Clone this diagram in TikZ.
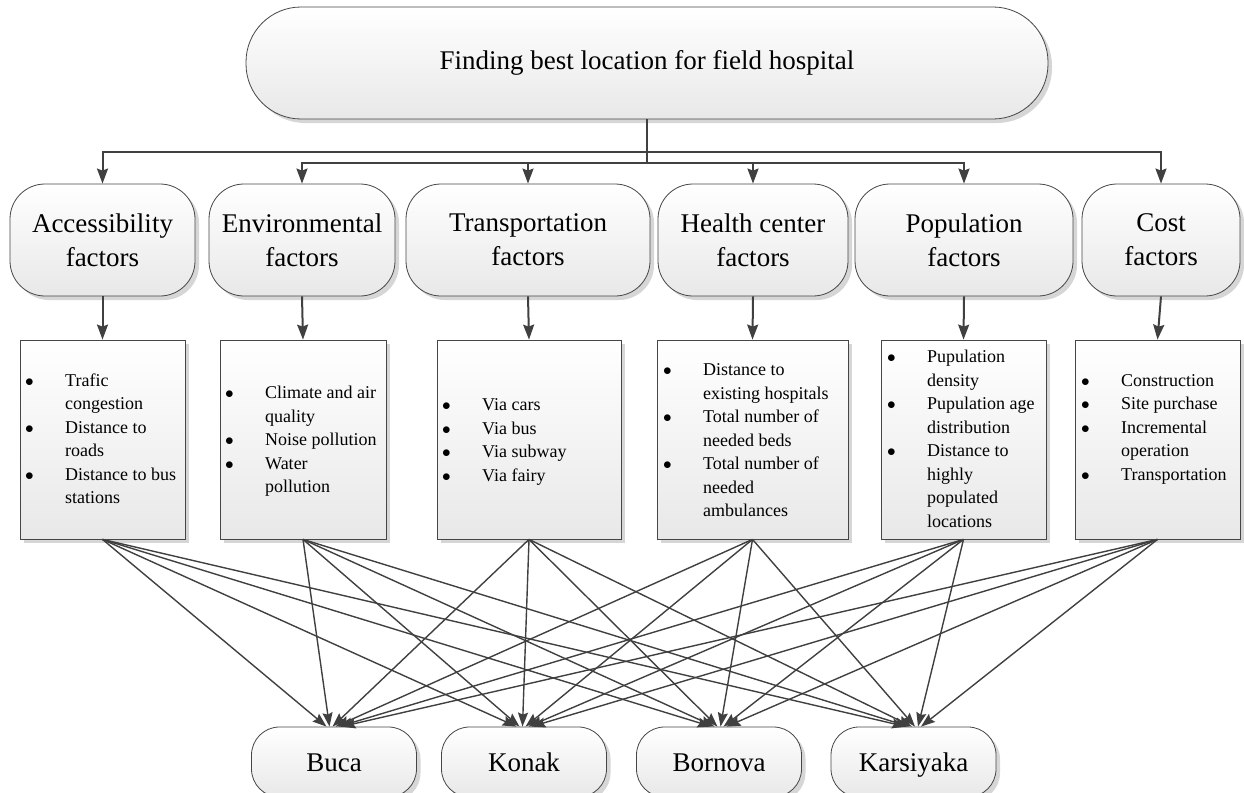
\documentclass[tikz,border=0pt]{standalone}
\usepackage{fontspec}
\setmainfont{Liberation Serif}
\usepackage{array}
\usetikzlibrary{arrows.meta,shadows}
\definecolor{lc}{RGB}{64,64,64}
\definecolor{bc}{RGB}{70,70,70}
\newcommand{\bul}{{\fontsize{17}{17}\selectfont$\bullet$}}
\newcommand{\mylist}[1]{\fontsize{18}{23.5}\selectfont\begin{tabular}{@{}p{40pt}@{}l@{}}#1\end{tabular}}
\begin{document}
\begin{tikzpicture}[x=1pt,y=-1pt,
  shade/.style={top color=white, bottom color=black!9},
  shad/.style={drop shadow={shadow xshift=4pt,shadow yshift=-4pt,fill=black!16,opacity=1}},
  goal/.style={draw=bc, line width=0.8pt, shade, shad, rounded corners=55pt, minimum width=802pt, minimum height=112pt, inner sep=0pt, font=\fontsize{27}{34}\selectfont},
  fnode/.style={draw=bc, line width=0.8pt, shade, shad, rounded corners=35pt, minimum height=112pt, inner sep=0pt, align=center, font=\fontsize{27}{34}\selectfont},
  lbox/.style={draw=bc, line width=0.8pt, shade, shad, minimum height=199pt, inner sep=0pt},
  place/.style={draw=bc, line width=0.8pt, shade, shad, rounded corners=28pt, minimum width=165pt, minimum height=70pt, inner sep=0pt, text height=22pt, text depth=4pt, font=\fontsize{27}{34}\selectfont},
  txt/.style={anchor=west, inner sep=0pt},
  arr/.style={draw=lc, line width=2pt, -{Stealth[length=15pt,width=11pt,inset=2pt]}},
  fan/.style={draw=lc, line width=1.4pt, -{Stealth[length=14pt,width=10pt,inset=2pt]}}
]
\useasboundingbox (0,0) rectangle (1244,792);

% top node
\node[goal] (top) at (647,63) {Finding best location for field hospital};

% factor nodes
\node[fnode, minimum width=185pt] (f1) at (102.5,240) {Accessibility\\factors};
\node[fnode, minimum width=186pt] (f2) at (302,240) {Environmental\\factors};
\node[fnode, minimum width=244pt] (f3) at (528,240) {Transportation\\factors};
\node[fnode, minimum width=190pt] (f4) at (753,240) {Health center\\factors};
\node[fnode, minimum width=218pt] (f5) at (964,240) {Population\\factors};
\node[fnode, minimum width=158pt] (f6) at (1161,240) {Cost\\factors};

% list boxes
\node[lbox, minimum width=165pt] (b1) at (102.5,439.5) {};
\node[lbox, minimum width=166pt] (b2) at (303,439.5) {};
\node[lbox, minimum width=184pt] (b3) at (529,439.5) {};
\node[lbox, minimum width=191pt] (b4) at (752.5,439.5) {};
\node[lbox, minimum width=165pt] (b5) at (963.5,439.5) {};
\node[lbox, minimum width=165pt] (b6) at (1157.5,439.5) {};

\node[txt] (t1) at (25,440.5) {\mylist{\bul & Trafic\\ & congestion\\ \bul & Distance to\\ & roads\\ \bul & Distance to bus\\ & stations}};
\node[txt] (t2) at (225,441) {\mylist{\bul & Climate and air\\ & quality\\ \bul & Noise pollution\\ \bul & Water\\ & pollution}};
\node[txt] (t3) at (442,441.5) {\mylist{\bul & Via cars\\ \bul & Via bus\\ \bul & Via subway\\ \bul & Via fairy}};
\node[txt] (t4) at (663,441.5) {\mylist{\bul & Distance to\\ & existing hospitals\\ \bul & Total number of\\ & needed beds\\ \bul & Total number of\\ & needed\\ & ambulances}};
\node[txt] (t5) at (887,440.5) {\mylist{\bul & Pupulation\\ & density\\ \bul & Pupulation age\\ & distribution\\ \bul & Distance to\\ & highly\\ & populated\\ & locations}};
\node[txt] (t6) at (1081,428.5) {\mylist{\bul & Construction\\ \bul & Site purchase\\ \bul & Incremental\\ & operation\\ \bul & Transportation}};

% bottom nodes
\node[place] (buca) at (334,762) {Buca};
\node[place] (konak) at (524,762) {Konak};
\node[place] (bornova) at (719,762) {Bornova};
\node[place] (karsiyaka) at (913.5,762) {Karsiyaka};

% top connectors
\draw[arr] (top.south) -- ++(0,33) -| (f1.north);
\draw[arr] (top.south) -- ++(0,33) -| (f6.north);
\draw[arr] (top.south) -- ++(0,44) -| (f2.north);
\draw[arr] (top.south) -- ++(0,44) -| (f3.north);
\draw[arr] (top.south) -- ++(0,44) -| (f4.north);
\draw[arr] (top.south) -- ++(0,44) -| (f5.north);

% factor to list
\foreach \i in {1,...,6} {
  \draw[arr] (f\i.south) -- (b\i.north);
}

% fan connectors
\foreach \i in {1,...,6} {
  \foreach \n in {buca,konak,bornova,karsiyaka} {
    \draw[fan] (b\i.south) -- ([xshift={(\i-3.5)*3pt}]\n.north);
  }
}
\end{tikzpicture}
\end{document}
